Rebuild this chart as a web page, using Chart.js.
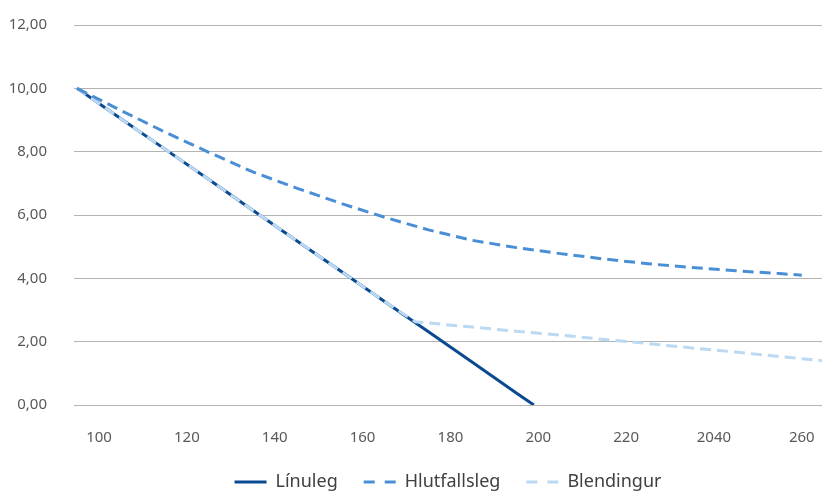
<!DOCTYPE html>
<html lang="is">

<head>
    <meta charset="UTF-8">
    <title>Línuleg, hlutfallsleg og blönduð lækkun</title>
    <script src="https://cdn.jsdelivr.net/npm/chart.js"></script>
    <style>
        html, body { margin: 0; padding: 0; background: #fff; }
        #wrap { width: 822px; height: 492px; }
    </style>
</head>

<body>
    <div id="wrap"><canvas id="chart"></canvas></div>
    <script>
        // x-axis tick positions and their printed labels (the "2040" is as in the original)
        const tickValues = [100, 120, 140, 160, 180, 200, 220, 240, 260];
        const tickLabels = ["100", "120", "140", "160", "180", "200", "220", "2040", "260"];

        // Línuleg - straight line down to zero
        const linX = [95, 105, 115, 125, 135, 145, 155, 165, 175, 185, 195, 199];
        const linY = [10.0, 9.04, 8.08, 7.12, 6.15, 5.19, 4.23, 3.27, 2.31, 1.35, 0.38, 0.0];

        // Hlutfallsleg - proportional curve
        const hlutX = [95, 105, 115, 125, 135, 145, 155, 165, 175, 185, 195, 205, 215, 225, 235, 245, 255, 260];
        const hlutY = [10.0, 9.30, 8.62, 7.98, 7.36, 6.85, 6.37, 5.93, 5.53, 5.20, 4.97, 4.78, 4.61, 4.46, 4.34, 4.24, 4.15, 4.10];

        // Blendingur - follows the line, then flattens out
        const blendX = [95, 105, 115, 125, 135, 145, 155, 165, 172, 185, 195, 205, 215, 225, 235, 245, 255, 264.6];
        const blendY = [10.0, 9.04, 8.08, 7.12, 6.15, 5.19, 4.23, 3.27, 2.63, 2.46, 2.33, 2.21, 2.07, 1.94, 1.80, 1.67, 1.53, 1.40];

        const pts = (xs, ys) => xs.map((x, i) => ({ x: x, y: ys[i] }));
        const font = "'Noto Sans', 'Open Sans', sans-serif";

        new Chart(document.getElementById("chart"), {
            type: "line",
            data: {
                datasets: [
                    { label: "Línuleg", data: pts(linX, linY), borderColor: "#0b4a91", borderWidth: 3, order: 1 },
                    { label: "Hlutfallsleg", data: pts(hlutX, hlutY), borderColor: "#4a8fd6", borderWidth: 3, borderDash: [11, 6], order: 0 },
                    { label: "Blendingur", data: pts(blendX, blendY), borderColor: "#bbd9f3", borderWidth: 3, borderDash: [11, 6], order: 0 }
                ]
            },
            options: {
                responsive: true,
                maintainAspectRatio: false,
                animation: false,
                layout: { padding: { top: 25, right: 0, left: 0, bottom: -9 } },
                elements: { point: { radius: 0 }, line: { tension: 0, borderCapStyle: "butt" } },
                plugins: {
                    tooltip: { enabled: false },
                    legend: {
                        position: "bottom",
                        fullSize: false,
                        labels: {
                            usePointStyle: true,
                            pointStyle: "line",
                            pointStyleWidth: 32,
                            boxHeight: 17,
                            padding: 26,
                            color: "#404040",
                            font: { family: font, size: 18 },
                            sort: (a, b) => a.datasetIndex - b.datasetIndex,
                            generateLabels: chart => Chart.defaults.plugins.legend.labels.generateLabels(chart).map(l => {
                                const ds = chart.data.datasets[l.datasetIndex];
                                l.lineDash = ds.borderDash ? [11, 10] : [];
                                l.lineWidth = 3;
                                l.strokeStyle = ds.borderColor;
                                return l;
                            })
                        }
                    }
                },
                scales: {
                    x: {
                        type: "linear",
                        min: 94.3,
                        max: 264.6,
                        afterBuildTicks: s => { s.ticks = tickValues.map(v => ({ value: v })); },
                        afterFit: s => { s.height = 42; s.paddingLeft = 0; s.paddingRight = 0; },
                        grid: { display: false },
                        border: { display: false },
                        ticks: {
                            padding: 16,
                            color: "#595959",
                            font: { family: font, size: 15 },
                            maxRotation: 0,
                            callback: v => tickLabels[tickValues.indexOf(v)]
                        }
                    },
                    y: {
                        min: 0,
                        max: 12,
                        afterFit: s => { s.width = 74; s.paddingTop = 0; s.paddingBottom = 0; },
                        grid: { color: "#b3b3b3", lineWidth: 1, drawTicks: false },
                        border: { display: false },
                        ticks: {
                            stepSize: 2,
                            padding: 27,
                            color: "#595959",
                            font: { family: font, size: 15 },
                            callback: v => v.toFixed(2).replace(".", ",")
                        }
                    }
                }
            }
        });
    </script>
</body>

</html>
